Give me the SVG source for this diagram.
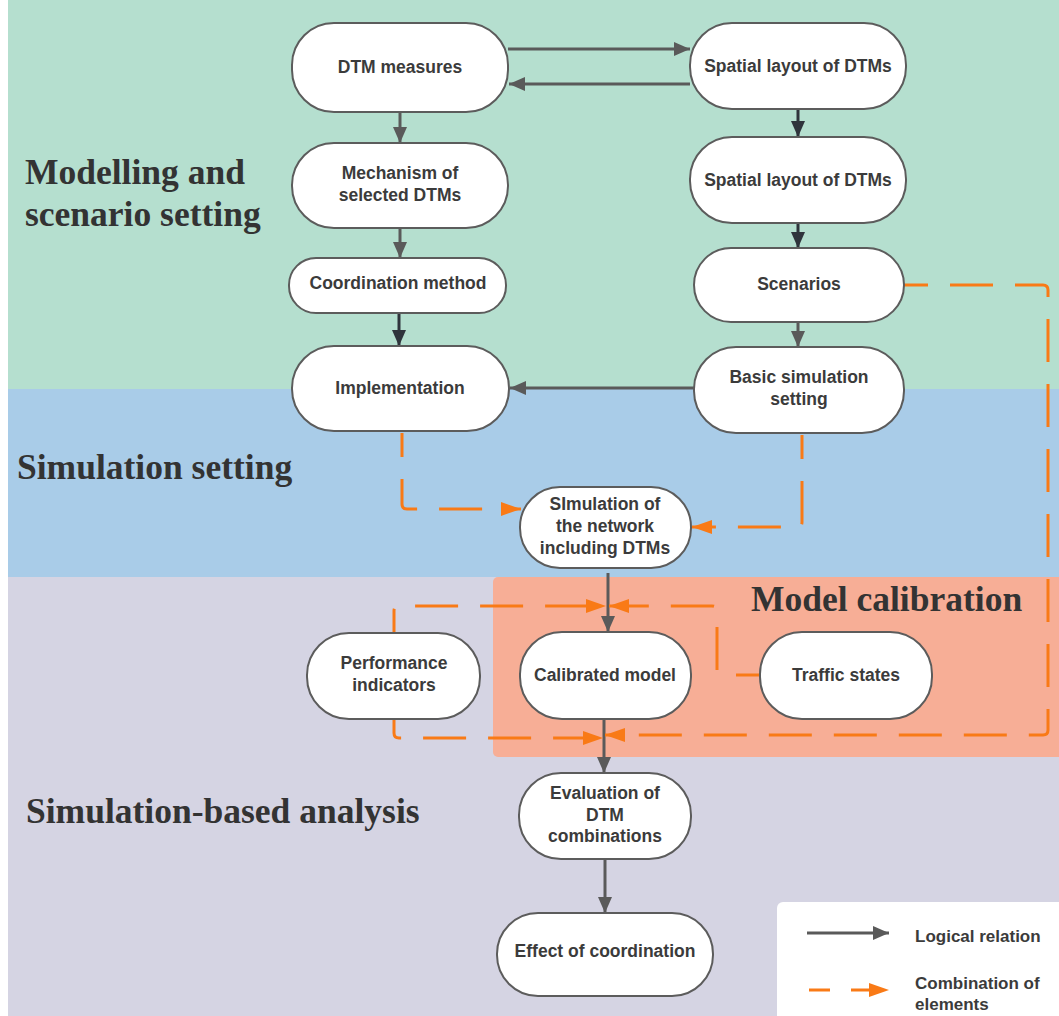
<svg xmlns="http://www.w3.org/2000/svg" width="1059" height="1016" viewBox="0 0 1059 1016">
  <style>
    .node { fill: #ffffff; stroke: #5c5c5c; stroke-width: 2; }
    .lbl { font-family: "Liberation Sans", Arial, sans-serif; font-weight: bold; font-size: 17.5px; fill: #3b3b3b; text-anchor: middle; }
    .leg { font-family: "Liberation Sans", Arial, sans-serif; font-weight: bold; font-size: 17px; fill: #3b3b3b; }
    .title { font-family: "Liberation Serif", "Times New Roman", serif; font-weight: bold; font-size: 35.5px; fill: #333333; }
    .solid { fill: none; stroke: #5a5a5a; stroke-width: 3; marker-end: url(#arrGray); }
    .dark { fill: none; stroke: #2f343c; stroke-width: 3; marker-end: url(#arrDark); }
    .dash { fill: none; stroke: #f97a16; stroke-width: 3; stroke-dasharray: 43 22; stroke-dashoffset: 19; stroke-linejoin: round; marker-end: url(#arrOrange); }
  </style>
  <defs>
    <marker id="arrGray" markerUnits="userSpaceOnUse" markerWidth="16" markerHeight="14" refX="16" refY="7" orient="auto">
      <path d="M0,0 L16,7 L0,14 Z" fill="#5a5a5a"/>
    </marker>
    <marker id="arrDark" markerUnits="userSpaceOnUse" markerWidth="16" markerHeight="14" refX="16" refY="7" orient="auto">
      <path d="M0,0 L16,7 L0,14 Z" fill="#2f343c"/>
    </marker>
    <marker id="arrOrange" markerUnits="userSpaceOnUse" markerWidth="20" markerHeight="14" refX="20" refY="7" orient="auto">
      <path d="M0,0 L20,7 L0,14 Z" fill="#f97a16"/>
    </marker>
  </defs>

  <!-- page and swimlane bands -->
  <rect x="0" y="0" width="1059" height="1016" fill="#ffffff"/>
  <rect x="8" y="0" width="1051" height="389" fill="#b5dfcf"/>
  <rect x="8" y="389" width="1051" height="188" fill="#a9cce8"/>
  <rect x="8" y="577" width="1051" height="439" fill="#d5d4e3"/>
  <rect x="493" y="577" width="580" height="180" rx="5" fill="#f7ae96"/>

  <!-- band titles -->
  <text class="title" x="25" y="184">Modelling and</text>
  <text class="title" x="25" y="226">scenario setting</text>
  <text class="title" x="17" y="479">Simulation setting</text>
  <text class="title" x="26" y="823">Simulation-based analysis</text>
  <text class="title" x="751" y="611">Model calibration</text>

  <!-- connectors -->
  <g id="connectors">
    <path class="solid" d="M508,49 L690,49"/>
    <path class="solid" d="M690,84 L509,84"/>
    <path class="solid" d="M400,113 L400,143"/>
    <path class="dark" d="M798,109 L798,137"/>
    <path class="solid" d="M400,228 L400,258"/>
    <path class="dark" d="M798,223 L798,248"/>
    <path class="dark" d="M399,313 L399,346"/>
    <path class="solid" d="M798,322 L798,347"/>
    <path class="solid" d="M694,388 L510,388"/>
    <path class="solid" d="M608,573 L608,632"/>
    <path class="solid" d="M604,719 L604,773"/>
    <path class="solid" d="M605,859 L605,913"/>

    <path class="dash" d="M402,433 L402,504 Q402,509 407,509 L521,509"/>
    <path class="dash" d="M802,435 L802,522 Q802,527 797,527 L692,527"/>
    <path class="dash" d="M904,285 L1043,285 Q1048,285 1048,290 L1048,730 Q1048,735 1043,735 L605,735"/>
    <path class="dash" d="M394,633 L394,611 Q394,606 399,606 L606,606"/>
    <path class="dash" d="M394,719 L394,733 Q394,738 399,738 L603,738"/>
    <path class="dash" d="M760,675 L722,675 Q717,675 717,670 L717,611 Q717,606 712,606 L609,606"/>
  </g>

  <!-- nodes -->
  <g id="n-dtm-measures">
    <rect class="node" x="292" y="23" width="216" height="89" rx="42" ry="42"/>
    <text class="lbl" x="400" y="73">DTM measures</text>
  </g>
  <g id="n-spatial-1">
    <rect class="node" x="690" y="23" width="216" height="86" rx="42" ry="42"/>
    <text class="lbl" x="798" y="72">Spatial layout of DTMs</text>
  </g>
  <g id="n-mechanism">
    <rect class="node" x="292" y="143" width="216" height="85" rx="42" ry="42"/>
    <text class="lbl" x="400" y="179">Mechanism of</text>
    <text class="lbl" x="400" y="201">selected DTMs</text>
  </g>
  <g id="n-spatial-2">
    <rect class="node" x="690" y="137" width="216" height="86" rx="42" ry="42"/>
    <text class="lbl" x="798" y="186">Spatial layout of DTMs</text>
  </g>
  <g id="n-coordination">
    <rect class="node" x="289" y="258" width="217" height="55" rx="27" ry="27"/>
    <text class="lbl" x="398" y="289">Coordination method</text>
  </g>
  <g id="n-scenarios">
    <rect class="node" x="694" y="248" width="210" height="74" rx="37" ry="37"/>
    <text class="lbl" x="799" y="290">Scenarios</text>
  </g>
  <g id="n-implementation">
    <rect class="node" x="292" y="346" width="217" height="85" rx="42" ry="42"/>
    <text class="lbl" x="400" y="394">Implementation</text>
  </g>
  <g id="n-basic-sim">
    <rect class="node" x="694" y="347" width="210" height="86" rx="42" ry="42"/>
    <text class="lbl" x="799" y="383">Basic simulation</text>
    <text class="lbl" x="799" y="405">setting</text>
  </g>
  <g id="n-simulation">
    <rect class="node" x="520" y="487" width="171" height="81" rx="40" ry="40"/>
    <text class="lbl" x="605" y="510">SImulation of</text>
    <text class="lbl" x="605" y="532">the network</text>
    <text class="lbl" x="605" y="554">including DTMs</text>
  </g>
  <g id="n-performance">
    <rect class="node" x="307" y="633" width="173" height="86" rx="42" ry="42"/>
    <text class="lbl" x="394" y="669">Performance</text>
    <text class="lbl" x="394" y="691">indicators</text>
  </g>
  <g id="n-calibrated">
    <rect class="node" x="520" y="632" width="171" height="87" rx="42" ry="42"/>
    <text class="lbl" x="605" y="681">Calibrated model</text>
  </g>
  <g id="n-traffic">
    <rect class="node" x="760" y="632" width="172" height="87" rx="42" ry="42"/>
    <text class="lbl" x="846" y="681">Traffic states</text>
  </g>
  <g id="n-evaluation">
    <rect class="node" x="519" y="773" width="172" height="86" rx="42" ry="42"/>
    <text class="lbl" x="605" y="799">Evaluation of</text>
    <text class="lbl" x="605" y="821">DTM</text>
    <text class="lbl" x="605" y="842">combinations</text>
  </g>
  <g id="n-effect">
    <rect class="node" x="497" y="913" width="216" height="83" rx="41" ry="41"/>
    <text class="lbl" x="605" y="957">Effect of coordination</text>
  </g>

  <!-- legend -->
  <g id="legend">
    <rect x="777" y="902" width="300" height="130" rx="6" fill="#ffffff"/>
    <path class="solid" d="M807,933 L889,933"/>
    <text class="leg" x="915" y="942">Logical relation</text>
    <path class="dash" d="M809,990 L889,990" style="stroke-dasharray: 21 21; stroke-dashoffset: 0;"/>
    <text class="leg" x="915" y="989">Combination of</text>
    <text class="leg" x="915" y="1010">elements</text>
  </g>
</svg>
